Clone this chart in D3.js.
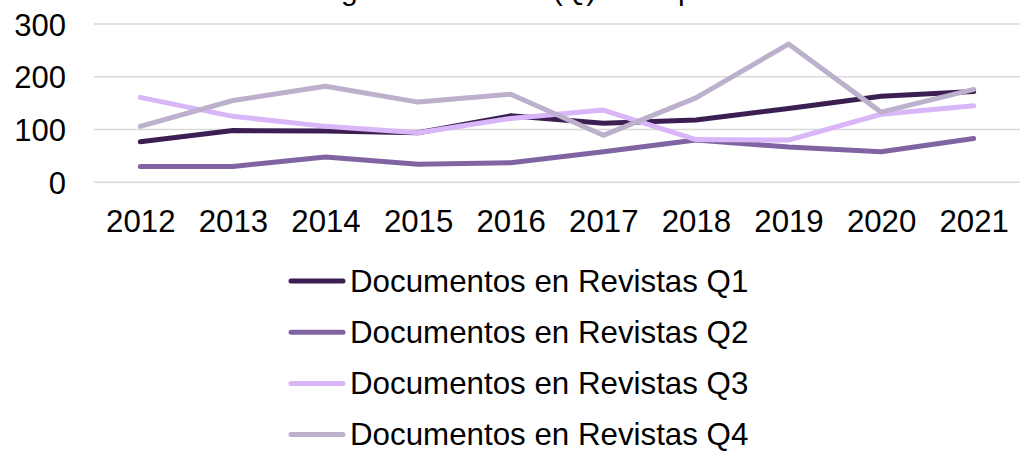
<!DOCTYPE html>
<html>
<head>
<meta charset="utf-8">
<script src="https://cdn.jsdelivr.net/npm/d3@7"></script>
<style>
    body { margin: 0; background: #fff; }
    #chart { width: 1021px; height: 455px; }
    text { font-family: "Liberation Sans", Arial, sans-serif; fill: #000; }
</style>
</head>
<body>
<div id="chart"></div>
<script>
// data
let years = ["2012", "2013", "2014", "2015", "2016", "2017", "2018", "2019", "2020", "2021"];
let seriesNames = ["Documentos en Revistas Q1", "Documentos en Revistas Q2", "Documentos en Revistas Q3", "Documentos en Revistas Q4"];
let q1 = [77, 98, 97, 94, 126, 112, 118, 140, 163, 172];
let q2 = [30, 30, 48, 34, 37, 58, 80, 67, 58, 83];
let q3 = [161, 125, 106, 94, 121, 137, 81, 80, 129, 145];
let q4 = [106, 155, 182, 152, 167, 89, 160, 262, 133, 176];
let yTicks = [0, 100, 200, 300];
let colors = ["#3c1f52", "#8064a2", "#d9b6f7", "#bcb0cc"];
let titleText = "Producción según cuartil SJR (Q) en el periodo";


class LineVis {

    constructor(parentElement){
        this.parentElement = parentElement;
        this.series = [q1, q2, q3, q4].map((vals, i) => ({
            name: seriesNames[i],
            color: colors[i],
            values: vals.map((v, j) => ({year: years[j], value: v}))
        }));

        this.initVis();
    }

    initVis(){
        let vis = this;

        vis.width = 1021;
        vis.height = 455;

        vis.svg = d3.select("#" + vis.parentElement).append("svg")
            .attr("width", vis.width)
            .attr("height", vis.height);

        // title, mostly cut off at the top (as in the original)
        vis.svg.append("text")
            .attr("x", 151)
            .attr("y", 0)
            .attr("font-size", 30)
            .text(titleText);

        // scales
        vis.x = d3.scalePoint()
            .domain(years)
            .range([94, 1020])
            .padding(0.5);

        vis.y = d3.scaleLinear()
            .domain([0, 300])
            .range([182.3, 24]);

        // gridlines
        vis.svg.append("g")
            .attr("class", "grid")
            .selectAll("line")
            .data(yTicks)
            .join("line")
            .attr("x1", 94)
            .attr("x2", 1020)
            .attr("y1", d => vis.y(d))
            .attr("y2", d => vis.y(d))
            .attr("stroke", "#d9d9d9")
            .attr("stroke-width", 1.5);

        // y axis
        vis.yAxis = d3.axisLeft(vis.y)
            .tickValues(yTicks)
            .tickSize(0)
            .tickPadding(0);

        vis.svg.append("g")
            .attr("class", "y-axis")
            .attr("transform", "translate(66, 0)")
            .call(vis.yAxis)
            .call(g => g.select(".domain").remove())
            .selectAll("text")
            .attr("font-size", 31)
            .attr("dy", "0.36em");

        // x axis
        vis.xAxis = d3.axisBottom(vis.x)
            .tickSize(0)
            .tickPadding(0);

        vis.svg.append("g")
            .attr("class", "x-axis")
            .attr("transform", "translate(0, 231.5)")
            .call(vis.xAxis)
            .call(g => g.select(".domain").remove())
            .selectAll("text")
            .attr("font-size", 31.2)
            .attr("y", 0)
            .attr("dy", 0);

        vis.updateVis();
    }

    updateVis(){
        let vis = this;

        let line = d3.line()
            .x(d => vis.x(d.year))
            .y(d => vis.y(d.value));

        vis.svg.append("g")
            .attr("class", "lines")
            .selectAll("path")
            .data(vis.series)
            .join("path")
            .attr("d", d => line(d.values))
            .attr("fill", "none")
            .attr("stroke", d => d.color)
            .attr("stroke-width", 5)
            .attr("stroke-linecap", "round")
            .attr("stroke-linejoin", "round");

        // legend
        let legend = vis.svg.append("g")
            .attr("class", "legend")
            .selectAll("g")
            .data(vis.series)
            .join("g")
            .attr("transform", (d, i) => `translate(0, ${281 + i * 51.2})`);

        legend.append("line")
            .attr("x1", 291)
            .attr("x2", 343)
            .attr("stroke", d => d.color)
            .attr("stroke-width", 5)
            .attr("stroke-linecap", "round");

        legend.append("text")
            .attr("x", 350)
            .attr("y", 10.7)
            .attr("font-size", 31.3)
            .text(d => d.name);
    }
}

new LineVis("chart");
</script>
</body>
</html>
